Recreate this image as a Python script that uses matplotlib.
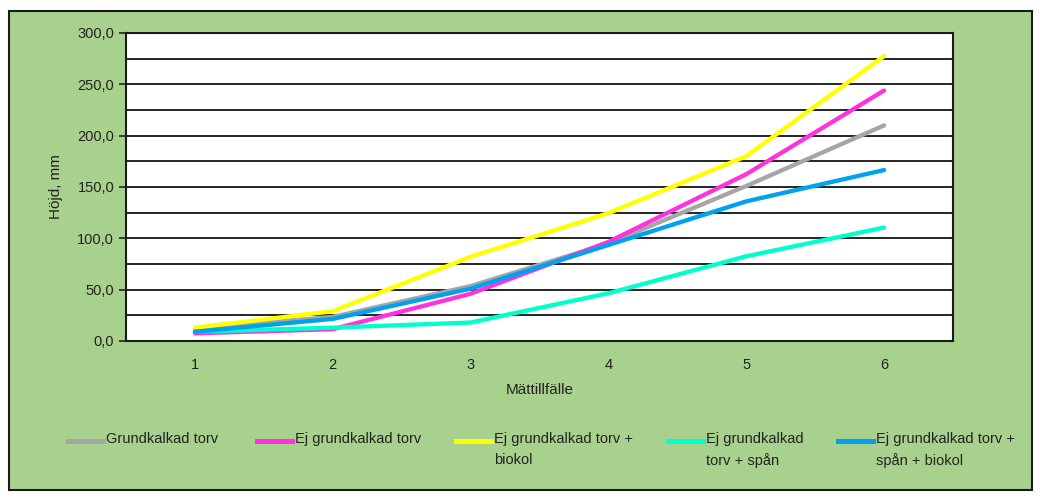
import matplotlib
matplotlib.use("Agg")
import matplotlib.pyplot as plt
from matplotlib.lines import Line2D
from matplotlib.patches import Rectangle
from matplotlib.ticker import MultipleLocator, FuncFormatter

plt.rcParams['font.family'] = ['Liberation Sans Narrow', 'Liberation Sans', 'DejaVu Sans']

# Mätdata: höjd i mm per mättillfälle
occasions = [1, 2, 3, 4, 5, 6]
grundkalkad = [12.0, 23.5, 53.5, 95.0, 151.0, 210.0]
ej_grundkalkad = [7.5, 11.5, 46.0, 96.5, 162.5, 244.0]
ej_biokol = [13.0, 29.0, 82.0, 124.5, 180.0, 277.5]
ej_span = [9.0, 13.0, 18.0, 46.5, 82.5, 110.5]
ej_span_biokol = [9.0, 21.5, 51.0, 93.5, 136.0, 166.5]

series = [
    ("Grundkalkad torv", grundkalkad, "#A6A6A6"),
    ("Ej grundkalkad torv", ej_grundkalkad, "#FF33DD"),
    ("Ej grundkalkad torv +\nbiokol", ej_biokol, "#FFFF00"),
    ("Ej grundkalkad\ntorv + spån", ej_span, "#00FFCC"),
    ("Ej grundkalkad torv +\nspån + biokol", ej_span_biokol, "#00A2EE"),
]

green = "#A9D18E"
fig = plt.figure(figsize=(10.4, 4.98), dpi=100)
fig.patch.set_facecolor("white")
fig.add_artist(Rectangle((9 / 1040, 1 - 490 / 498), 1023 / 1040, 479 / 498,
                         transform=fig.transFigure, facecolor=green,
                         edgecolor="#1a1a1a", linewidth=1.5, zorder=0))

ax = fig.add_axes([126 / 1040, 1 - 341 / 498, 827 / 1040, 308 / 498])
ax.set_facecolor("white")

for label, values, color in series:
    ax.plot(occasions, values, color=color, linewidth=3.1,
            solid_capstyle="round", zorder=3)

ax.set_xlim(0.5, 6.5)
ax.set_ylim(0, 300)
ax.yaxis.set_major_locator(MultipleLocator(50))
ax.yaxis.set_minor_locator(MultipleLocator(25))
ax.yaxis.set_major_formatter(FuncFormatter(lambda v, p: f"{v:.1f}".replace(".", ",")))
ax.set_xticks(occasions)
ax.grid(axis="y", which="both", color="black", linewidth=1.2, zorder=1)
ax.tick_params(axis="x", length=0, pad=12, labelsize=10.5, colors="#222222")
ax.tick_params(axis="y", which="major", length=5, width=1.2, labelsize=10.5,
               colors="#222222")
ax.tick_params(axis="y", which="minor", length=0)
for s in ax.spines.values():
    s.set_color("#1a1a1a")
    s.set_linewidth(1.5)

ax.set_xlabel("Mättillfälle", fontsize=11, color="#222222", labelpad=8)
ax.set_ylabel("Höjd, mm", fontsize=11, color="#222222", labelpad=10)

# Förklaring under diagrammet
line_x = [68, 257, 456, 668, 838]
for (label, values, color), x0 in zip(series, line_x):
    y = 1 - 441 / 498
    fig.add_artist(Line2D([x0 / 1040, (x0 + 35) / 1040], [y, y],
                          transform=fig.transFigure, color=color, linewidth=3.6))
    fig.text((x0 + 38) / 1040, 1 - 432 / 498, label, fontsize=10.5,
             color="#222222", va="top", ha="left", linespacing=1.6)

fig.savefig("out.png", dpi=100, facecolor=fig.get_facecolor())
